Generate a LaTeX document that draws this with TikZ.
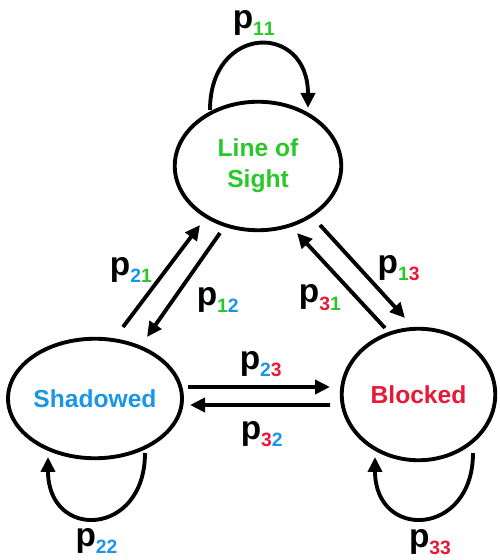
\documentclass[tikz,border=0pt]{standalone}
\usepackage{fontspec}
\setmainfont{Liberation Sans}
\usetikzlibrary{shapes.geometric,arrows.meta}

\definecolor{losgreen}{RGB}{40,200,40}
\definecolor{shblue}{RGB}{25,150,230}
\definecolor{blred}{RGB}{230,25,55}

% transition probability with two coloured indices
\newcommand{\trans}[4]{p\raisebox{-4pt}{\fontsize{11}{11}\selectfont\textcolor{#1}{#2}\textcolor{#3}{#4}}}

\tikzset{
  state/.style={ellipse, draw, line width=2.2pt, align=center, inner sep=0pt,
    font=\fontsize{14}{17.5}\selectfont\bfseries},
  arr/.style={-{Triangle[length=0.3cm,width=0.28cm]}, line width=2.2pt},
  prob/.style={inner sep=0pt, font=\fontsize{19}{19}\selectfont\bfseries}
}

\begin{document}
\begin{tikzpicture}
  \useasboundingbox (0,0) rectangle (9.98,11.2);

  \node[state, minimum width=3.33cm, minimum height=2.57cm, text=losgreen](LoS) at (5.16,7.88){Line of\\Sight};
  \node[state, minimum width=3.21cm, minimum height=2.39cm, text=shblue](Sh) at (1.9,3.23){Shadowed};
  \node[state, minimum width=3.07cm, minimum height=2.63cm, text=blred](Bl) at (8.37,3.31){Blocked};

  % self loops
  \draw[arr] ([shift={(-0.96,1.12)}]LoS.center) .. controls +(0,1.72) and +(0,1.72) .. ([shift={(1.00,1.16)}]LoS.center)
    node[midway, above=4pt, xshift=-3pt, prob](l11){\trans{losgreen}{1}{losgreen}{1}};
  \draw[arr] ([shift={(1.00,-1.09)}]Sh.center) .. controls +(0,-1.68) and +(0,-1.68) .. ([shift={(-0.94,-1.17)}]Sh.center)
    node[midway, below=5pt, prob](l22){\trans{shblue}{2}{shblue}{2}};
  \draw[arr] ([shift={(1.09,-1.17)}]Bl.center) .. controls +(0,-1.68) and +(0,-1.68) .. ([shift={(-0.87,-1.25)}]Bl.center)
    node[midway, below=5.5pt, xshift=3.4pt, prob](l33){\trans{blred}{3}{blred}{3}};

  % Line of Sight <-> Shadowed
  \draw[arr] ([shift={(0.56,1.43)}]Sh.center) -- ([shift={(-1.16,-1.18)}]LoS.center)
    node[pos=.56, left=7pt, prob](l21){\trans{shblue}{2}{losgreen}{1}};
  \draw[arr] ([shift={(-0.76,-1.34)}]LoS.center) -- ([shift={(1.04,1.23)}]Sh.center)
    node[pos=.645, right=12.5pt, prob](l12){\trans{losgreen}{1}{shblue}{2}};

  % Line of Sight <-> Blocked
  \draw[arr] ([shift={(1.24,-1.18)}]LoS.center) -- ([shift={(-0.27,1.53)}]Bl.center)
    node[pos=.46, right=9.5pt, prob](l13){\trans{losgreen}{1}{blred}{3}};
  \draw[arr] ([shift={(-0.67,1.33)}]Bl.center) -- ([shift={(0.78,-1.34)}]LoS.center)
    node[pos=.32, left=8pt, prob](l31){\trans{blred}{3}{losgreen}{1}};

  % Shadowed <-> Blocked
  \draw[arr] ([shift={(1.86,0.23)}]Sh.center) -- ([shift={(-1.77,0.15)}]Bl.center)
    node[midway, above=5pt, xshift=1pt, prob](l23){\trans{shblue}{2}{blred}{3}};
  \draw[arr] ([shift={(-1.77,-0.21)}]Bl.center) -- ([shift={(1.90,-0.13)}]Sh.center)
    node[midway, below=8.5pt, xshift=1pt, prob](l32){\trans{blred}{3}{shblue}{2}};
\end{tikzpicture}
\end{document}
